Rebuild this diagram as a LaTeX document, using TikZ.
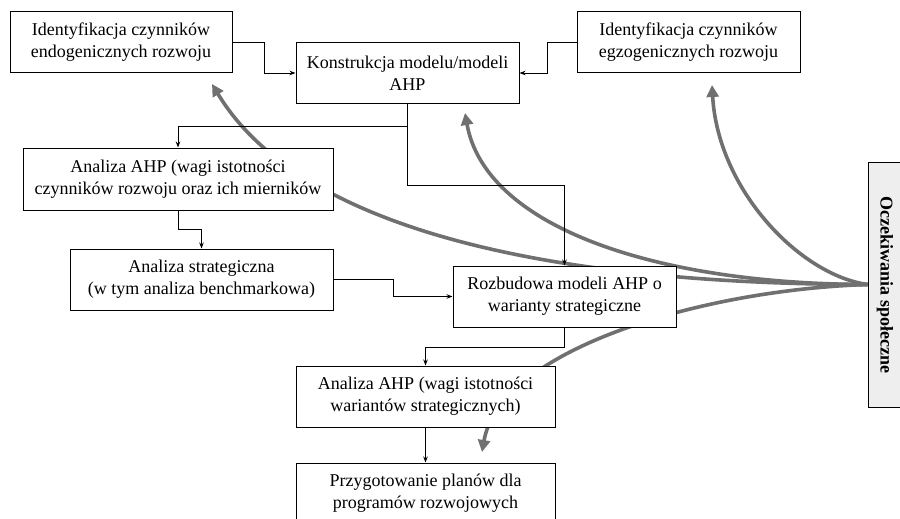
\documentclass[tikz,border=0pt]{standalone}
\usepackage{fontspec}
\setmainfont{Liberation Serif}
\usetikzlibrary{arrows.meta,calc}
\definecolor{curvegray}{HTML}{707070}
\definecolor{boxgray}{HTML}{EEEEEE}
\tikzset{
  blk/.style={draw=black, line width=1pt, fill=white, align=center, inner sep=2pt,
    font=\fontsize{18}{22}\selectfont},
  conn/.style={draw=black, line width=0.9pt, -{Stealth[length=6pt,width=4.5pt]}},
  social/.style={draw=curvegray, line width=3.6pt, -{Triangle[length=12pt,width=12pt]}}
}
\begin{document}
\begin{tikzpicture}[x=1pt,y=-1pt]
\useasboundingbox (0,0) rectangle (900,519);
\fill[white] (0,0) rectangle (900,519);
% social expectations box
\node[draw=black, line width=1pt, fill=boxgray, minimum width=35pt, minimum height=245pt, inner sep=0pt] (O) at (885.5,284.5) {};
\node[rotate=-90, font=\fontsize{18}{22}\selectfont\bfseries] (Ot) at (885,285) {Oczekiwania społeczne};
% arrow tips
\coordinate (t1) at (212,84);
\coordinate (t2) at (465,113);
\coordinate (t3) at (712,85);
\coordinate (t4) at (482,452);
% curves
\draw[social] (O.west) .. controls (550,284) and (300,230) .. (t1);
\draw[social] (O.west) .. controls (650,284) and (485,225) .. (t2);
\draw[social] (O.west) .. controls (800,275) and (718,190) .. (t3);
\draw[social] (O.west) .. controls (700,290) and (500,350) .. (t4);
% boxes
\node[blk, minimum width=222pt, minimum height=61pt] (E) at (121,42.5) {Identyfikacja czynników\\endogenicznych rozwoju};
\node[blk, minimum width=223pt, minimum height=60pt] (K) at (407.5,73) {Konstrukcja modelu/modeli\\AHP};
\node[blk, minimum width=223pt, minimum height=61pt] (G) at (688.5,42.5) {Identyfikacja czynników\\egzogenicznych rozwoju};
\node[blk, minimum width=310pt, minimum height=62pt] (A1) at (178,179) {Analiza AHP (wagi istotności\\czynników rozwoju oraz ich mierników};
\node[blk, minimum width=263pt, minimum height=61pt] (S) at (201.5,279.5) {Analiza strategiczna\\(w tym analiza benchmarkowa)};
\node[blk, minimum width=223pt, minimum height=61pt] (R) at (564.5,296.5) {Rozbudowa modeli AHP o\\warianty strategiczne};
\node[blk, minimum width=259pt, minimum height=61pt] (A2) at (425.5,396.5) {Analiza AHP (wagi istotności\\wariantów strategicznych)};
\node[blk, minimum width=259pt, minimum height=61pt] (P) at (425.5,493.5) {Przygotowanie planów dla\\programów rozwojowych};
% connectors
\draw[conn] (E.east) -- ++(32,0) |- (K.west);
\draw[conn] (G.west) -- ++(-29,0) |- (K.east);
\draw[conn] (K.south) -- ++(0,23) -| (A1.north);
\draw[conn] (K.south) -- ++(0,82) -| (R.north);
\draw[conn] (A1.south) -- ++(0,19) -| (S.north);
\draw[conn] (S.east) -- ++(60,0) |- (R.west);
\draw[conn] (R.south) -- ++(0,19.5) -| (A2.north);
\draw[conn] (A2.south) -- (P.north);
\end{tikzpicture}
\end{document}
